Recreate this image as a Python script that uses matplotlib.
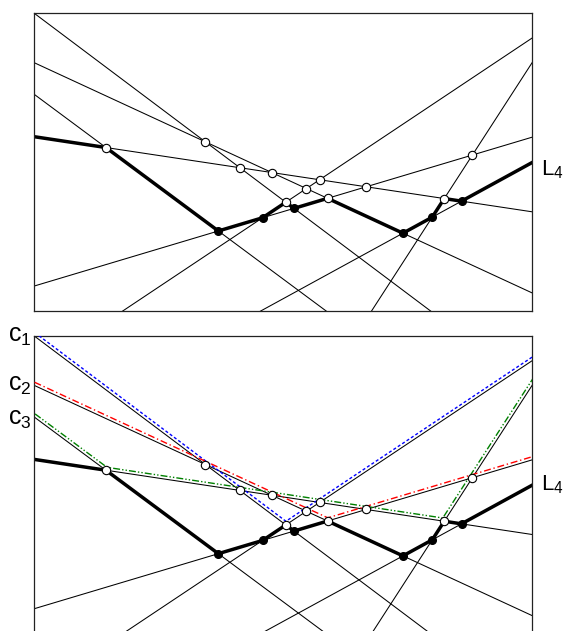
import numpy as np
import matplotlib
matplotlib.use('Agg')
import matplotlib.pyplot as plt

plt.rcParams['font.family'] = ['Liberation Sans', 'DejaVu Sans']
plt.rcParams['mathtext.fontset'] = 'custom'
plt.rcParams['mathtext.rm'] = 'Liberation Sans'
plt.rcParams['mathtext.it'] = 'Liberation Sans:italic'

# Lines of the arrangement: v = intercept + slope * u   (u, v in the unit frame)
line_intercepts = [1.0, 0.834, 0.7277, 0.5855, 0.084, -0.198, -0.416, -1.752]
line_slopes = [-1.255, -0.7725, -1.24, -0.252, 0.4995, 1.114, 0.914, 2.584]
level_k = 4
level_label = 'L$_4$'
# concave chains (line indices in order along u)
chain_lines = [[0, 5], [1, 4], [2, 3, 7]]
chain_labels = ['c$_1$', 'c$_2$', 'c$_3$']
chain_colors = ['#0000ff', '#ff0000', '#008000']
chain_dashes = [(2.2, 1.6), (5, 2, 1, 2), (5, 1.5, 1, 1.5, 1, 1.5)]

a = np.array(line_intercepts)
b = np.array(line_slopes)
n = len(a)

# all pairwise intersections
verts = []
for i in range(n):
    for j in range(i + 1, n):
        if b[i] == b[j]:
            continue
        u = (a[j] - a[i]) / (b[i] - b[j])
        v = a[i] + b[i] * u
        verts.append((u, v))

# k-level polyline
u_lo, u_hi = -0.05, 1.05
bps = sorted([u_lo, u_hi] + [p[0] for p in verts if u_lo < p[0] < u_hi])
lev_u = np.array(bps)
lev_v = np.array([np.sort(a + b * u)[::-1][level_k - 1] for u in bps])

open_pts, fill_pts = [], []
for (u, v) in verts:
    if not (-0.001 <= u <= 1.001 and -0.001 <= v <= 1.001):
        continue
    m = np.sum(a + b * u > v + 1e-9)
    if m <= level_k - 2:
        open_pts.append((u, v))
    elif m == level_k - 1:
        fill_pts.append((u, v))
open_pts = np.array(open_pts)
fill_pts = np.array(fill_pts)

W_IN, H_IN = 5.64, 6.31
fig = plt.figure(figsize=(W_IN, H_IN), dpi=100)
ax_pos_w, ax_pos_h = 0.8819, 0.4718
ax1 = fig.add_axes([0.0608, 0.5071, ax_pos_w, ax_pos_h])
ax2 = fig.add_axes([0.0608, -0.0043, ax_pos_w, ax_pos_h])
Wpx = ax_pos_w * W_IN * 100
Hpx = ax_pos_h * H_IN * 100


def chain_polyline(idx, d_px):
    aa, bb = [], []
    for i in idx:
        s = b[i] * Hpx / Wpx
        aa.append(a[i] + d_px * np.sqrt(1 + s * s) / Hpx)
        bb.append(b[i])
    us = [u_lo]
    for p in range(len(idx) - 1):
        us.append((aa[p + 1] - aa[p]) / (bb[p] - bb[p + 1]))
    us.append(u_hi)
    ys = []
    for q, u in enumerate(us):
        r = max(q - 1, 0)
        ys.append(aa[r] + bb[r] * u)
    return us, ys


def draw_base(ax):
    uu = np.array([u_lo, u_hi])
    for i in range(n):
        ax.plot(uu, a[i] + b[i] * uu, color='black', lw=0.75, zorder=1)
    ax.plot(lev_u, lev_v, color='black', lw=2.5, zorder=2, solid_joinstyle='miter')
    ax.plot(fill_pts[:, 0], fill_pts[:, 1], 'o', ms=5.5, mfc='black', mec='black', zorder=5)
    ax.plot(open_pts[:, 0], open_pts[:, 1], 'o', ms=6, mfc='white', mec='black', mew=0.8, zorder=5)
    ax.set_xlim(0, 1)
    ax.set_ylim(0, 1)
    ax.set_xticks([])
    ax.set_yticks([])
    for sp in ax.spines.values():
        sp.set_linewidth(0.9)
        sp.set_color('#222222')


draw_base(ax1)
draw_base(ax2)

for idx, col, dsh in zip(chain_lines, chain_colors, chain_dashes):
    us, ys = chain_polyline(idx, 3.0)
    ax2.plot(us, ys, color=col, lw=1.0, dashes=dsh, zorder=3)

fs_l = 16
fs_c = 18
ax1.text(1.0187, 0.455, level_label, transform=ax1.transAxes, fontsize=fs_l,
         ha='left', va='baseline', clip_on=False)
ax2.text(1.0187, 0.482, level_label, transform=ax2.transAxes, fontsize=fs_l,
         ha='left', va='baseline', clip_on=False)
for lab, vy in zip(chain_labels, [0.981, 0.815, 0.701]):
    ax2.text(-0.006, vy, lab, transform=ax2.transAxes, fontsize=fs_c,
             ha='right', va='baseline', clip_on=False)

fig.savefig('out.png', dpi=100)
